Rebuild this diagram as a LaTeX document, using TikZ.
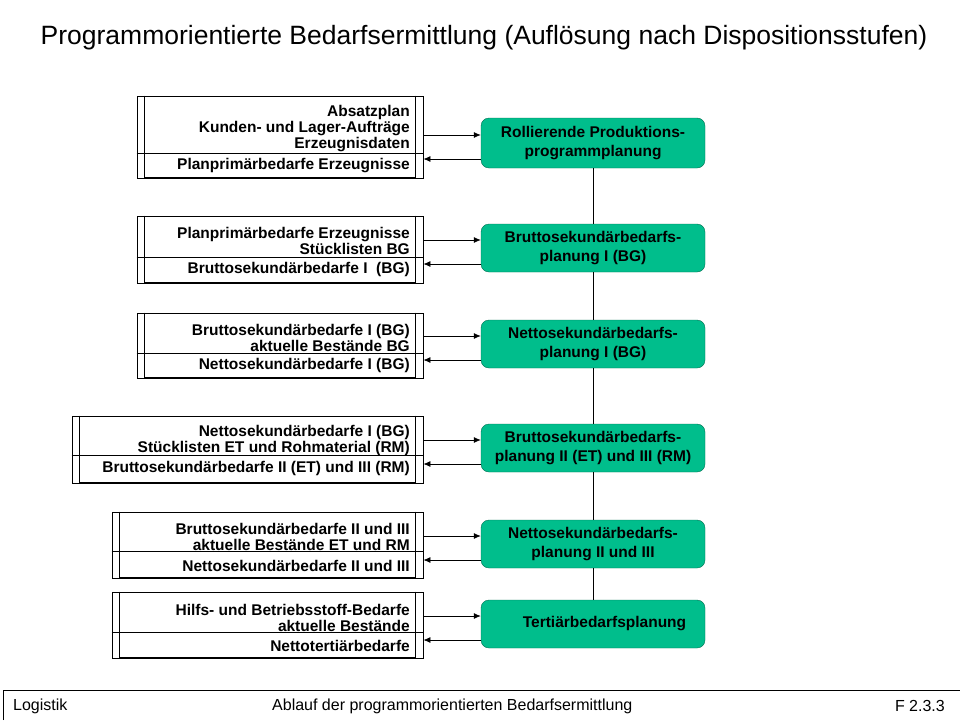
\documentclass[tikz,border=0pt]{standalone}
\usepackage{fontspec}
\setmainfont{Liberation Sans}
\usepackage{xcolor}
\definecolor{PlanFill}{RGB}{0,190,140}
\definecolor{PlanBorder}{RGB}{0,110,80}
\definecolor{LineColor}{RGB}{0,0,0}
\usepackage{tikz}
\usetikzlibrary{
  positioning,
  arrows.meta,
  calc,
  fit
}
\tikzset{
  % Planning step (green)
  planbox/.style={
    rectangle,
    rounded corners=8pt,
    draw=PlanBorder,
    fill=PlanFill,
    minimum width=224pt,
    minimum height=48pt,
    inner sep=0pt,
    align=center,
    font=\fontsize{15.5}{19.5}\selectfont\bfseries
  },
  % Input / output box on the left
  databox/.style={
    rectangle,
    draw=LineColor,
    line width=0.8pt,
    inner sep=0pt
  },
  % Text in the left boxes
  datatext/.style={
    anchor=east,
    align=right,
    inner sep=0pt,
    yshift=-1.5pt,
    font=\fontsize{15.5}{16}\selectfont\bfseries
  },
  % Standard edge
  edge/.style={
    draw=LineColor,
    line width=0.8pt
  },
  % Directed edge
  dedge/.style={
    draw=LineColor,
    line width=0.8pt,
    -{Latex[length=7pt,width=6pt]}
  },
  % Footer text
  foot/.style={
    inner sep=0pt,
    font=\fontsize{16}{18}\selectfont
  }
}
\begin{document}
\begin{tikzpicture}[x=1pt,y=-1pt]
  \useasboundingbox (0,0) rectangle (960,720);
  % Title
  \node[font=\fontsize{26.5}{30}\selectfont] (title) at (484,38)
    {Programmorientierte Bedarfsermittlung (Auflösung nach Dispositionsstufen)};
  % Planning steps
  \node[planbox, minimum height=50pt] (plan1) at (593,143) {Rollierende Produktions-\\programmplanung};
  \node[planbox] (plan2) at (593,248) {Bruttosekundärbedarfs-\\planung I (BG)};
  \node[planbox] (plan3) at (593,344) {Nettosekundärbedarfs-\\planung I (BG)};
  \node[planbox] (plan4) at (593,448) {Bruttosekundärbedarfs-\\planung II (ET) und III (RM)};
  \node[planbox] (plan5) at (593,544) {Nettosekundärbedarfs-\\planung II und III};
  \node[planbox] (plan6) at (593,624) {\hspace*{23pt}Tertiärbedarfsplanung};
  % Chain of the planning steps
  \foreach \i in {1,...,5} {
    \pgfmathtruncatemacro{\next}{\i + 1}
    \draw[edge] (plan\i) -- (plan\next);
  }
  % Data boxes (left, top, divider, bottom)
  \foreach \i/\l/\t/\d/\b in {1/137/96/153/178, 2/137/216/257/283, 3/137/313/353/378,
                              4/72/416/455/483, 5/112/512/551/578, 6/112/592/632/658} {
    \node[databox, fit={(\l,\t) (423,\b)}] (box\i) {};
    \draw[edge] ([xshift=8pt]box\i.north west) -- ([xshift=8pt]box\i.south west);
    \draw[edge] ([xshift=-8pt]box\i.north east) -- ([xshift=-8pt]box\i.south east);
    \draw[edge] (box\i.west |- 0,\d) -- (box\i.east |- 0,\d);
    \draw[edge, line width=1.6pt] ([xshift=8pt,yshift=0.6pt]box\i.south west)
      -- ([xshift=-8pt,yshift=0.6pt]box\i.south east);
    % Arrows in and out
    \coordinate (pin\i) at ([yshift=8pt]plan\i.west);
    \coordinate (pout\i) at ([yshift=-16pt]plan\i.west);
    \draw[dedge] (box\i.east |- pin\i) -- (pin\i);
    \draw[dedge] (pout\i) -- (box\i.east |- pout\i);
  }
  % Texts of the data boxes
  \node[datatext] (in1) at (410,127) {Absatzplan\\Kunden- und Lager-Aufträge\\Erzeugnisdaten};
  \node[datatext] (out1) at (410,164) {Planprimärbedarfe Erzeugnisse};
  \node[datatext] (in2) at (410,239) {Planprimärbedarfe Erzeugnisse\\Stücklisten BG};
  \node[datatext] (out2) at (410,268) {Bruttosekundärbedarfe I\ \ (BG)};
  \node[datatext] (in3) at (410,336) {Bruttosekundärbedarfe I (BG)\\aktuelle Bestände BG};
  \node[datatext] (out3) at (410,364) {Nettosekundärbedarfe I (BG)};
  \node[datatext] (in4) at (410,439) {Nettosekundärbedarfe I (BG)\\Stücklisten ET und Rohmaterial (RM)};
  \node[datatext] (out4) at (410,467) {Bruttosekundärbedarfe II (ET) und III (RM)};
  \node[datatext] (in5) at (410,535) {Bruttosekundärbedarfe II und III\\aktuelle Bestände ET und RM};
  \node[datatext] (out5) at (410,564) {Nettosekundärbedarfe II und III};
  \node[datatext] (in6) at (410,616) {Hilfs- und Betriebsstoff-Bedarfe\\aktuelle Bestände};
  \node[datatext] (out6) at (410,644) {Nettotertiärbedarfe};
  % Footer
  \draw[edge] (3,720) -- (3,690) -- (960,690);
  \node[foot, anchor=west] (fleft) at (13,706) {Logistik};
  \node[foot, anchor=west] (fmid) at (272,706) {Ablauf der programmorientierten Bedarfsermittlung};
  \node[foot, anchor=east] (fright) at (945,706) {F 2.3.3};
\end{tikzpicture}
\end{document}
